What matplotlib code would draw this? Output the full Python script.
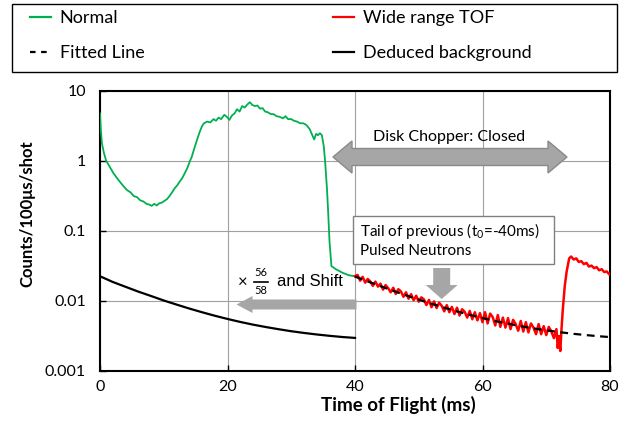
import matplotlib
matplotlib.use('Agg')
import matplotlib.pyplot as plt
from matplotlib.patches import Polygon, Rectangle
from matplotlib.lines import Line2D
from matplotlib.ticker import NullLocator

plt.rcParams['font.family'] = ['Lato', 'DejaVu Sans']
plt.rcParams['mathtext.fontset'] = 'custom'
plt.rcParams['mathtext.rm'] = 'Lato'
plt.rcParams['mathtext.it'] = 'Lato:italic'

# ---- data ----
normal_t = [0.0, 0.15, 0.3, 0.6, 0.95, 1.5, 2.1, 2.8, 3.5, 4.2, 4.8, 5.3, 5.8, 6.3,
            6.8, 7.3, 7.7, 8.1, 8.5, 8.9, 9.3, 9.7, 10.1, 10.5, 10.9, 11.3, 11.7,
            12.1, 12.5, 12.9, 13.3, 13.7, 14.1, 14.4, 14.8, 15.2, 15.6, 16.0, 16.3,
            16.8, 17.3, 17.8, 18.2, 18.6, 19.0, 19.5, 19.9, 20.3, 20.7, 21.1, 21.5,
            21.9, 22.3, 22.7, 23.1, 23.5, 23.9, 24.3, 24.7, 25.1, 25.5, 25.9, 26.3,
            26.8, 27.2, 27.7, 28.2, 28.7, 29.1, 29.5, 30.0, 30.4, 30.9, 31.4, 31.9,
            32.4, 32.9, 33.3, 33.6, 33.9, 34.2, 34.5, 34.8, 35.1, 35.3, 35.6, 35.8,
            36.0, 36.3, 37.0, 38.0, 39.0, 40.0]
normal_y = [4.7, 2.6, 1.76, 1.3, 1.0, 0.82, 0.66, 0.54, 0.45, 0.38, 0.35, 0.31, 0.30,
            0.27, 0.26, 0.24, 0.235, 0.225, 0.24, 0.228, 0.245, 0.25, 0.265, 0.28,
            0.31, 0.35, 0.40, 0.44, 0.50, 0.56, 0.66, 0.78, 0.98, 1.13, 1.5, 1.95,
            2.5, 3.1, 3.4, 3.6, 3.5, 3.9, 3.7, 4.1, 3.9, 4.5, 4.2, 3.8, 4.4, 4.7,
            5.4, 5.0, 6.0, 5.7, 6.3, 6.8, 6.2, 6.0, 6.1, 5.5, 5.6, 5.0, 4.9, 4.6,
            4.6, 4.3, 4.2, 4.0, 4.3, 3.9, 3.9, 3.7, 3.6, 3.4, 3.4, 3.2, 2.8, 2.3,
            2.0, 2.4, 2.3, 2.45, 2.3, 1.6, 1.0, 0.4, 0.176, 0.07, 0.031, 0.028,
            0.025, 0.023, 0.0222]

wide_t = [40.0, 40.4, 40.8, 41.2, 41.6, 42.0, 42.4, 42.8, 43.2, 43.6, 44.0, 44.4,
          44.8, 45.2, 45.6, 46.0, 46.4, 46.8, 47.2, 47.6, 48.0, 48.4, 48.8, 49.2,
          49.6, 50.0, 50.4, 50.8, 51.2, 51.6, 52.0, 52.4, 52.8, 53.2, 53.6, 54.0,
          54.4, 54.8, 55.2, 55.6, 56.0, 56.4, 56.8, 57.2, 57.6, 58.0, 58.4, 58.8,
          59.2, 59.6, 60.0, 60.4, 60.8, 61.2, 61.6, 62.0, 62.4, 62.8, 63.2, 63.6,
          64.0, 64.4, 64.8, 65.2, 65.6, 66.0, 66.4, 66.8, 67.2, 67.6, 68.0, 68.4,
          68.8, 69.2, 69.6, 70.0, 70.4, 70.8, 71.2, 71.6, 71.8, 72.0, 72.2, 72.4,
          72.6, 72.9, 73.2, 73.6, 73.9, 74.3, 74.7, 75.1, 75.5, 75.9, 76.3, 76.7,
          77.1, 77.5, 77.9, 78.3, 78.7, 79.1, 79.5, 79.9, 80.0]
wide_y = [0.0222, 0.0232, 0.0192, 0.0218, 0.0180, 0.0203, 0.0187, 0.0162, 0.0186,
          0.0158, 0.0174, 0.0143, 0.0166, 0.0150, 0.0131, 0.0152, 0.0124, 0.0145,
          0.0135, 0.0113, 0.0131, 0.0106, 0.0123, 0.0101, 0.0117, 0.0096, 0.0111,
          0.0104, 0.0086, 0.0102, 0.0080, 0.0097, 0.0078, 0.0093, 0.0084, 0.0070,
          0.0086, 0.0068, 0.0081, 0.0064, 0.0079, 0.0061, 0.0075, 0.0069, 0.0057,
          0.0071, 0.0054, 0.0068, 0.0052, 0.0066, 0.0049, 0.0068, 0.0047, 0.0065,
          0.0058, 0.0044, 0.0062, 0.0042, 0.0057, 0.0041, 0.0056, 0.0039, 0.0053,
          0.0046, 0.0037, 0.0051, 0.0036, 0.0049, 0.0035, 0.0047, 0.0041, 0.0033,
          0.0046, 0.0033, 0.0043, 0.0032, 0.0042, 0.0036, 0.0029, 0.0039, 0.0021,
          0.0031, 0.0019, 0.0040, 0.0075, 0.0160, 0.0260, 0.0400, 0.0425, 0.0385,
          0.0400, 0.0355, 0.0365, 0.0330, 0.0345, 0.0305, 0.0315, 0.0290, 0.0300,
          0.0270, 0.0280, 0.0255, 0.0260, 0.0235, 0.0240]

fit_t = [40, 42, 44, 46, 48, 50, 52, 54, 56, 58, 60, 62, 64, 66, 68, 70, 72, 74, 76, 78, 80]
fit_y = [0.0220, 0.01873, 0.01601, 0.01375, 0.01186, 0.01029, 0.00899, 0.00790,
         0.00699, 0.00624, 0.00561, 0.00509, 0.00466, 0.00430, 0.00400, 0.00375,
         0.00354, 0.00336, 0.00322, 0.00310, 0.00300]

bg_t = [0, 2, 4, 6, 8, 10, 12, 14, 16, 18, 20, 22, 24, 26, 28, 30, 32, 34, 36, 38, 40]
bg_y = [0.0222, 0.0184, 0.0157, 0.0134, 0.0116, 0.0100, 0.00875, 0.00768, 0.00680,
        0.00606, 0.00545, 0.00494, 0.00452, 0.00418, 0.00389, 0.00364, 0.00344,
        0.00327, 0.00313, 0.00301, 0.00292]

xticks = [0, 20, 40, 60, 80]
yticks = [0.001, 0.01, 0.1, 1, 10]
ytick_labels = ['0.001', '0.01', '0.1', '1', '10']

GREEN = '#00b050'
RED = '#ff0000'
GRAY = '#a6a6a6'

W, H = 625, 437
fig = plt.figure(figsize=(W / 100, H / 100), dpi=100)
ax = fig.add_axes([100 / W, 1 - 370.5 / H, 510 / W, 280 / H])

ax.plot(normal_t, normal_y, color=GREEN, lw=1.3, zorder=3)
ax.plot(wide_t, wide_y, color=RED, lw=1.8, zorder=3)
ax.plot(fit_t, fit_y, color='black', lw=1.6, dashes=(3.5, 2.5), zorder=4)
ax.plot(bg_t, bg_y, color='black', lw=1.6, zorder=3)

ax.set_yscale('log')
ax.set_xlim(0, 80)
ax.set_ylim(0.001, 10)
ax.set_xticks(xticks)
ax.set_yticks(yticks)
ax.set_yticklabels(ytick_labels)
ax.yaxis.set_minor_locator(NullLocator())
ax.grid(True, color='#a0a0a0', lw=0.8)
ax.set_axisbelow(True)
for s in ax.spines.values():
    s.set_linewidth(1.5)
ax.tick_params(direction='in', length=4, width=1, labelsize=11.5)
ax.tick_params(axis='y', pad=10)
ax.tick_params(axis='x', pad=7)

ax.set_xlabel('Time of Flight (ms)', fontsize=13.5, fontweight='bold')
ax.set_ylabel('Counts/100μs/shot', fontsize=12, fontweight='bold')
ax.xaxis.set_label_coords(0.586, -0.123)
ax.xaxis.label.set_va('center')
ax.yaxis.set_label_coords(-0.143, 0.56)
ax.yaxis.label.set_va('center')


def fig_xy(pts):
    return [(x / W, 1 - y / H) for x, y in pts]


def h_arrow(x0, x1, yc, bh, hh, hl, both=False):
    pts = [(x0, yc), (x0 + hl, yc - hh / 2), (x0 + hl, yc - bh / 2)]
    if both:
        pts += [(x1 - hl, yc - bh / 2), (x1 - hl, yc - hh / 2), (x1, yc),
                (x1 - hl, yc + hh / 2), (x1 - hl, yc + bh / 2)]
    else:
        pts += [(x1, yc - bh / 2), (x1, yc + bh / 2)]
    pts += [(x0 + hl, yc + bh / 2), (x0 + hl, yc + hh / 2)]
    return fig_xy(pts)


# double arrow: disk chopper closed
fig.add_artist(Polygon(h_arrow(333, 567, 157, 17, 32, 19, both=True), closed=True,
                       transform=fig.transFigure, fc=GRAY, ec='#8a8a8a', lw=1, zorder=5))
fig.text(449.5 / W, 1 - 137 / H, 'Disk Chopper: Closed', fontsize=11.5,
         ha='center', va='center')

# left arrow: scale and shift
fig.add_artist(Polygon(h_arrow(236.5, 356.5, 304.5, 10, 17, 16), closed=True,
                       transform=fig.transFigure, fc=GRAY, ec='none', zorder=5))
fig.text(243 / W, 1 - 282 / H, '×', fontsize=12, ha='center', va='center')
fig.text(260.5 / W, 1 - 272 / H, '56', fontsize=8, ha='center', va='center')
fig.text(260.5 / W, 1 - 291 / H, '58', fontsize=8, ha='center', va='center')
fig.add_artist(Line2D([253.5 / W, 267.5 / W], [1 - 281.5 / H] * 2, color='black',
                      lw=1.2, transform=fig.transFigure))
fig.text(277 / W, 1 - 281 / H, 'and Shift', fontsize=12, family='Liberation Sans',
         ha='left', va='center')

# text box and down arrow
fig.add_artist(Rectangle((353 / W, 1 - 264 / H), 201 / W, 48 / H, transform=fig.transFigure,
                         fc='white', ec='#808080', lw=1, zorder=5))
fig.text(360 / W, 1 - 231 / H, 'Tail of previous (t$_0$=-40ms)', fontsize=11,
         ha='left', va='center', zorder=6)
fig.text(360 / W, 1 - 251 / H, 'Pulsed Neutrons', fontsize=11,
         ha='left', va='center', zorder=6)
xc = 441.7
fig.add_artist(Polygon(fig_xy([(xc - 8.5, 268), (xc + 8.5, 268), (xc + 8.5, 285),
                               (xc + 16, 285), (xc, 299), (xc - 16, 285), (xc - 8.5, 285)]),
                       closed=True, transform=fig.transFigure, fc=GRAY, ec='none', zorder=5))

# legend box drawn separately, two single-column legends inside
fig.add_artist(Rectangle((12 / W, 1 - 72 / H), 605 / W, 68 / H, transform=fig.transFigure,
                         fc='white', ec='black', lw=1))
h_normal = Line2D([], [], color=GREEN, lw=1.6)
h_fit = Line2D([], [], color='black', lw=1.6, dashes=(2.5, 2.5))
h_wide = Line2D([], [], color=RED, lw=1.6)
h_bg = Line2D([], [], color='black', lw=1.6)
leg_kw = dict(loc='upper left', frameon=False, fontsize=13, handlelength=1.15,
              handletextpad=0.5, labelspacing=1.05, borderpad=0, borderaxespad=0)
leg1 = fig.legend([h_normal, h_fit], ['Normal', 'Fitted Line'],
                  bbox_to_anchor=(30 / W, 1 - 10 / H), **leg_kw)
leg2 = fig.legend([h_wide, h_bg], ['Wide range TOF', 'Deduced background'],
                  bbox_to_anchor=(333 / W, 1 - 10 / H), **leg_kw)

fig.savefig('out.png', dpi=100)
